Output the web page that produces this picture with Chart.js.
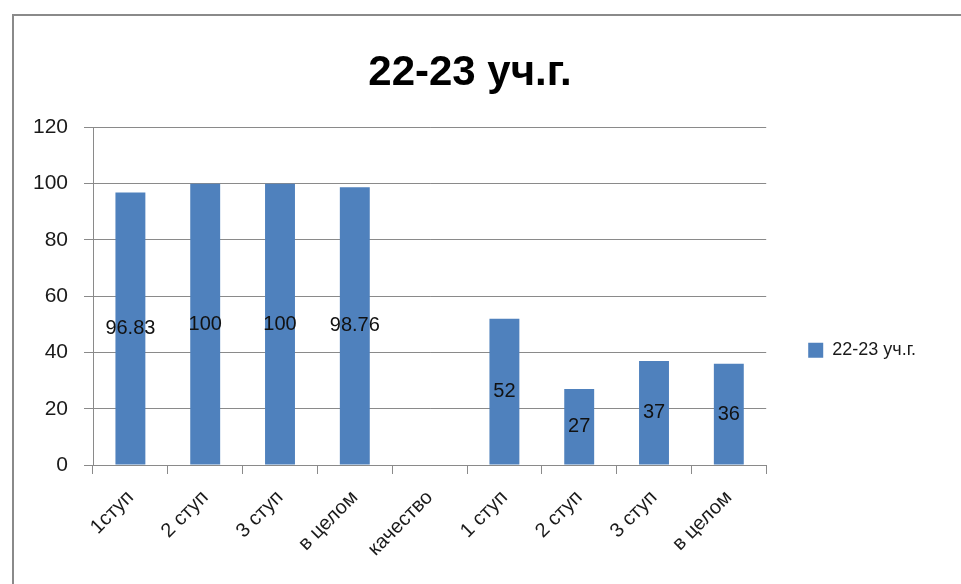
<!DOCTYPE html>
<html>
<head>
<meta charset="utf-8">
<script src="https://cdn.jsdelivr.net/npm/chart.js@4.4.1/dist/chart.umd.min.js"></script>
<style>
    html, body { margin: 0; padding: 0; background: #fff; overflow: hidden; }
    #wrap { position: relative; width: 961px; height: 584px; }
    #frame { position: absolute; left: 12px; top: 14px; width: 980px; height: 600px; border: 2px solid #8a8a8a; box-sizing: border-box; }
    canvas { position: absolute; left: 0; top: 0; }
</style>
</head>
<body>
<div id="wrap">
    <div id="frame"></div>
    <canvas id="chart" width="961" height="584"></canvas>
</div>
<script>
// categories and values
const categories = ['1ступ', '2 ступ', '3 ступ', 'в целом', 'качество', '1 ступ', '2 ступ', '3 ступ', 'в целом'];
const seriesName = '22-23 уч.г.';
const values = [96.83, 100, 100, 98.76, null, 52, 27, 37, 36];
const yTicks = [0, 20, 40, 60, 80, 100, 120];

const FONT = "'Liberation Sans', Arial, sans-serif";

// simple data labels centered inside bars
const barLabels = {
    id: 'barLabels',
    afterDatasetsDraw(chart) {
        const ctx = chart.ctx;
        const meta = chart.getDatasetMeta(0);
        ctx.save();
        ctx.font = '20px ' + FONT;
        ctx.fillStyle = '#111';
        ctx.textAlign = 'center';
        ctx.textBaseline = 'middle';
        meta.data.forEach((bar, i) => {
            const v = values[i];
            if (v === null) return;
            const p = bar.getCenterPoint();
            ctx.fillText(String(v), p.x, p.y);
        });
        ctx.restore();
    }
};

new Chart(document.getElementById('chart').getContext('2d'), {
    type: 'bar',
    data: {
        labels: categories,
        datasets: [{
            label: seriesName,
            data: values,
            backgroundColor: '#4f81bd',
            borderWidth: 0,
            categoryPercentage: 1,
            barPercentage: 0.4
        }]
    },
    options: {
        responsive: false,
        animation: false,
        layout: { padding: { left: 14, top: 14, right: 35, bottom: 0 } },
        plugins: {
            title: {
                display: true,
                text: seriesName,
                color: '#000',
                font: { family: FONT, size: 42, weight: 'bold' },
                padding: { top: 34, bottom: 29 }
            },
            legend: {
                position: 'right',
                // empty legend title only pushes the item down
                title: { display: true, text: '', font: { size: 12 }, padding: { top: 88, bottom: 0 } },
                labels: {
                    color: '#1a1a1a',
                    font: { family: FONT, size: 18 },
                    boxWidth: 15,
                    boxHeight: 15,
                    padding: 42
                }
            },
            tooltip: { enabled: false }
        },
        scales: {
            x: {
                offset: true,
                grid: { offset: true, drawOnChartArea: false, drawTicks: true, tickLength: 9, color: '#8a8a8a' },
                border: { color: '#8a8a8a', width: 1 },
                ticks: {
                    color: '#1a1a1a',
                    font: { family: FONT, size: 20 },
                    maxRotation: 45,
                    minRotation: 45,
                    padding: 12
                },
                afterFit(s) { s.height = 119; }
            },
            y: {
                min: 0,
                max: 120,
                afterBuildTicks(s) { s.ticks = yTicks.map(v => ({ value: v })); },
                grid: { color: '#8a8a8a', tickLength: 9 },
                border: { color: '#8a8a8a', width: 1 },
                ticks: {
                    color: '#1a1a1a',
                    font: { family: FONT, size: 21 },
                    padding: 16
                },
                afterFit(s) { s.width = 79; }
            }
        }
    },
    plugins: [barLabels]
});
</script>
</body>
</html>
